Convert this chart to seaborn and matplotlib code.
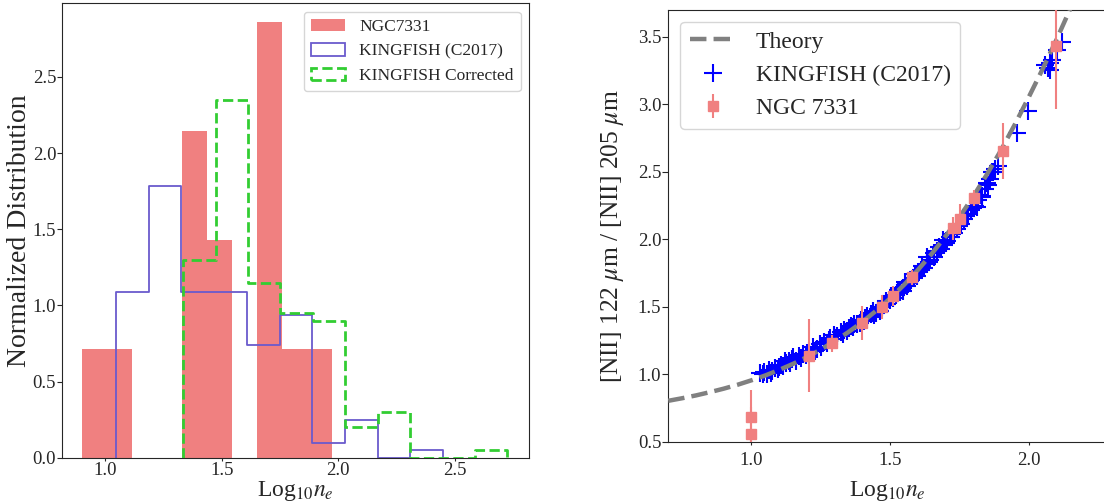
import numpy as np
import pandas as pd
import seaborn as sns
import matplotlib
matplotlib.use("Agg")
import matplotlib.pyplot as plt
from matplotlib.patches import Patch
from matplotlib.lines import Line2D

# ---------------- data ----------------
# Histogram of log10 electron density: counts per bin and bin range
ngc_counts = [1, 1, 0, 0, 3, 2, 0, 4, 1, 1]
ngc_range = (0.900, 1.975)

kf_counts = [22, 36, 22, 22, 15, 19, 2, 5, 0, 1]
kf_range = (1.046, 2.450)

kfc_counts = [26, 47, 23, 19, 18, 4, 6, 0, 0, 1]
kfc_range = (1.335, 2.724)

# Theoretical [NII] 122/205 line ratio versus log10 n_e
theory_logne = [0.70, 0.75, 0.80, 0.85, 0.90, 0.95, 1.00, 1.05, 1.10, 1.15,
                1.20, 1.25, 1.30, 1.35, 1.40, 1.45, 1.50, 1.55, 1.60, 1.65,
                1.70, 1.75, 1.80, 1.85, 1.90, 1.95, 2.00, 2.05, 2.10, 2.15, 2.20]
theory_ratio = [0.803, 0.822, 0.843, 0.867, 0.893, 0.922, 0.955, 0.991, 1.032, 1.077,
                1.127, 1.183, 1.245, 1.313, 1.388, 1.471, 1.562, 1.662, 1.772, 1.892,
                2.023, 2.164, 2.318, 2.484, 2.661, 2.852, 3.054, 3.262, 3.480, 3.710, 3.950]

# KINGFISH (C2017) regions
kf_logne = [1.030, 1.045, 1.055, 1.062, 1.075, 1.085, 1.095, 1.105, 1.115, 1.125,
            1.135, 1.148, 1.160, 1.172, 1.185, 1.195, 1.208, 1.222, 1.235, 1.248,
            1.260, 1.272, 1.285, 1.298, 1.310, 1.322, 1.335, 1.345, 1.358, 1.370,
            1.382, 1.395, 1.405, 1.418, 1.430, 1.442, 1.455, 1.465, 1.478, 1.490,
            1.500, 1.512, 1.525, 1.535, 1.548, 1.560, 1.572, 1.585, 1.597, 1.610,
            1.622, 1.633, 1.645, 1.658, 1.670, 1.682, 1.694, 1.706, 1.718, 1.730,
            1.742, 1.755, 1.768, 1.780, 1.792, 1.805, 1.818, 1.830, 1.842, 1.853,
            1.862, 1.870, 1.878, 1.890,
            1.956, 1.998, 2.058, 2.068, 2.077, 2.083, 2.101, 2.119, 2.075,
            1.120, 1.180, 1.250, 1.300, 1.350, 1.390, 1.440, 1.470, 1.505, 1.530,
            1.555, 1.575, 1.600, 1.615, 1.640, 1.660, 1.675, 1.700, 1.725, 1.750,
            1.775, 1.800, 1.825, 1.848, 1.866, 1.812, 1.830, 1.716, 1.692, 1.632,
            1.040, 1.070, 1.100, 1.140, 1.150, 1.200, 1.230, 1.280, 1.330, 1.365,
            1.410, 1.450, 1.485, 1.520, 1.545, 1.565, 1.590]
kf_ratio = [1.010, 1.015, 1.005, 1.030, 1.025, 1.045, 1.040, 1.070, 1.060, 1.085,
            1.095, 1.110, 1.100, 1.135, 1.150, 1.140, 1.175, 1.200, 1.190, 1.225,
            1.240, 1.230, 1.270, 1.290, 1.285, 1.315, 1.330, 1.320, 1.355, 1.375,
            1.370, 1.405, 1.395, 1.435, 1.445, 1.440, 1.480, 1.470, 1.515, 1.520,
            1.550, 1.565, 1.600, 1.610, 1.640, 1.655, 1.690, 1.715, 1.730, 1.770,
            1.790, 1.820, 1.850, 1.870, 1.910, 1.925, 1.960, 1.985, 2.020, 2.050,
            2.080, 2.115, 2.150, 2.190, 2.215, 2.250, 2.290, 2.320, 2.370, 2.405,
            2.450, 2.500, 2.520, 2.545,
            2.786, 2.951, 3.290, 3.270, 3.255, 3.330, 3.404, 3.465, 3.310,
            1.095, 1.120, 1.200, 1.260, 1.345, 1.380, 1.470, 1.500, 1.580, 1.625,
            1.680, 1.700, 1.755, 1.800, 1.835, 1.895, 1.940, 1.975, 2.040, 2.095,
            2.170, 2.230, 2.330, 2.415, 2.501, 2.242, 2.316, 2.020, 1.995, 1.871,
            1.000, 1.010, 1.050, 1.080, 1.125, 1.160, 1.175, 1.250, 1.300, 1.350,
            1.420, 1.455, 1.540, 1.590, 1.620, 1.675, 1.740]

# NGC 7331 regions with uncertainties on the ratio
ngc_logne = [1.000, 1.000, 1.207, 1.291, 1.397, 1.470, 1.511, 1.579, 1.728, 1.752,
             1.804, 1.908, 2.098]
ngc_ratio = [0.680, 0.560, 1.137, 1.229, 1.378, 1.500, 1.580, 1.719, 2.082, 2.151,
             2.309, 2.655, 3.435]
ngc_err = [0.200, 0.200, 0.270, 0.065, 0.125, 0.090, 0.075, 0.055, 0.085, 0.110,
           0.060, 0.210, 0.470]

# ---------------- style ----------------
sns.set_style("ticks")
plt.rcParams["font.family"] = ["Liberation Serif", "DejaVu Serif"]
plt.rcParams["mathtext.fontset"] = "stix"
plt.rcParams["xtick.direction"] = "out"
plt.rcParams["ytick.direction"] = "out"

RED = "#F08080"
PURPLE = "#6A5ACD"
GREEN = "#32CD32"

fig = plt.figure(figsize=(11.04, 5.03), dpi=100)
ax1 = fig.add_axes([0.0559, 0.0901, 0.4235, 0.9040])
ax2 = fig.add_axes([0.6053, 0.1219, 0.4019, 0.8583])


def binned(counts, rng):
    edges = np.linspace(rng[0], rng[1], len(counts) + 1)
    centers = 0.5 * (edges[:-1] + edges[1:])
    return pd.DataFrame({"x": centers, "w": counts}), list(edges)


def close_step(ax):
    # drop the outline of the last step histogram down to the baseline at both ends
    line = ax.lines[-1]
    x, y = line.get_data()
    line.set_data(np.r_[x[0], x, x[-1]], np.r_[0.0, y, 0.0])


# ---------------- left: histograms ----------------
df, edges = binned(ngc_counts, ngc_range)
sns.histplot(data=df, x="x", weights="w", bins=edges, stat="density",
             element="bars", fill=True, color=RED, alpha=1.0, linewidth=0,
             ax=ax1, zorder=1)

df, edges = binned(kf_counts, kf_range)
sns.histplot(data=df, x="x", weights="w", bins=edges, stat="density",
             element="step", fill=False, color=PURPLE, linewidth=1.3,
             ax=ax1, zorder=2)
close_step(ax1)

df, edges = binned(kfc_counts, kfc_range)
sns.histplot(data=df, x="x", weights="w", bins=edges, stat="density",
             element="step", fill=False, color=GREEN, linewidth=2.0,
             linestyle="--", ax=ax1, zorder=3)
close_step(ax1)

ax1.set_xlim(0.814, 2.819)
ax1.set_ylim(0, 2.985)
ax1.set_xticks([1.0, 1.5, 2.0, 2.5])
ax1.set_yticks([0.0, 0.5, 1.0, 1.5, 2.0, 2.5])
ax1.tick_params(axis="x", labelsize=13.5, length=2.5, pad=0.5)
ax1.tick_params(axis="y", labelsize=13.5, length=3.5, pad=0.5)
ax1.set_xlabel(r"Log$_{10}n_e$", fontsize=17)
ax1.xaxis.set_label_coords(0.5, -0.046)
ax1.set_ylabel("Normalized Distribution", fontsize=20)
ax1.yaxis.set_label_coords(-0.063, 0.5)

h1 = [Patch(facecolor=RED, edgecolor="none"),
      Patch(facecolor="none", edgecolor=PURPLE, linewidth=1.3),
      Patch(facecolor="none", edgecolor=GREEN, linewidth=2.0, linestyle="--")]
ax1.legend(h1, ["NGC7331", "KINGFISH (C2017)", "KINGFISH Corrected"],
           loc="upper right", fontsize=12.5, frameon=True, fancybox=True,
           borderaxespad=0.5)

# ---------------- right: line ratio vs density ----------------
sns.scatterplot(x=kf_logne, y=kf_ratio, marker="+", s=150, color="blue",
                linewidth=1.5, ax=ax2, zorder=2)
sns.lineplot(x=theory_logne, y=theory_ratio, color="gray", linewidth=3.2,
             linestyle="--", ax=ax2, zorder=3)
ngc_handle = ax2.errorbar(ngc_logne, ngc_ratio, yerr=ngc_err, fmt="s", color=RED,
                          markersize=6.5, elinewidth=1.5, capsize=0, zorder=4)

ax2.set_xlim(0.7, 2.3)
ax2.set_ylim(0.5, 3.7)
ax2.set_xticks([1.0, 1.5, 2.0])
ax2.set_yticks([0.5, 1.0, 1.5, 2.0, 2.5, 3.0, 3.5])
ax2.tick_params(axis="x", labelsize=13.5, length=2.5, pad=5)
ax2.tick_params(axis="y", labelsize=13.5, length=4, pad=1)
ax2.set_xlabel(r"Log$_{10}n_e$", fontsize=17)
ax2.xaxis.set_label_coords(0.494, -0.086)
ax2.set_ylabel(r"[NII] 122 $\mu$m / [NII] 205 $\mu$m", fontsize=18.4)
ax2.yaxis.set_label_coords(-0.096, 0.477)

h2 = [Line2D([], [], color="gray", linewidth=3.2, linestyle="--"),
      Line2D([], [], color="blue", marker="+", linestyle="none",
             markersize=13, markeredgewidth=1.5),
      ngc_handle]
ax2.legend(h2, ["Theory", "KINGFISH (C2017)", "NGC 7331"],
           loc="upper left", fontsize=17, frameon=True, fancybox=True,
           borderaxespad=0.5)

fig.savefig("out.png", dpi=100)
